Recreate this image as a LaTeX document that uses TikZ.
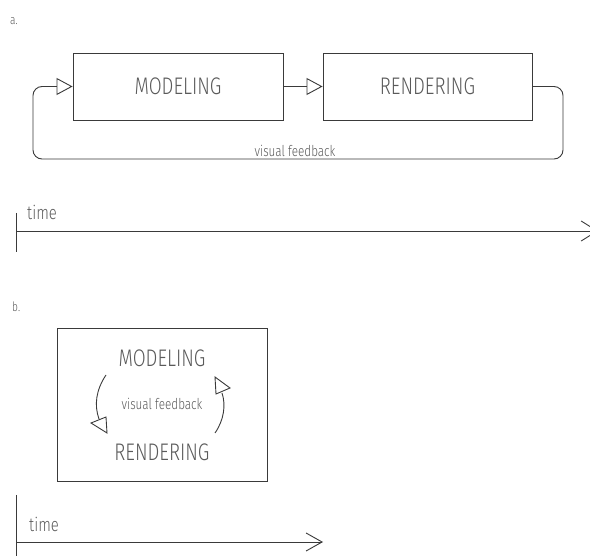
\documentclass[tikz,border=0pt]{standalone}
\usepackage{fontspec}
\setmainfont{Fira Sans}[UprightFont=* Light, FakeStretch=0.78]
\usetikzlibrary{arrows.meta}
\definecolor{ink}{HTML}{3A3A3A}
\definecolor{txt}{HTML}{5A5A5A}
\tikzset{
  stage/.style={draw=ink, line width=0.9pt, minimum width=210pt, minimum height=67pt,
    inner sep=0pt, font=\fontsize{24}{24}\selectfont, text=txt},
  word/.style={inner sep=0pt, font=\fontsize{24}{24}\selectfont, text=txt},
  small/.style={inner sep=0pt, text=txt, font=\fontsize{15}{15}\selectfont},
  timelbl/.style={inner sep=0pt, text=txt, font=\fontsize{19}{19}\selectfont, anchor=base west},
  tag/.style={inner sep=0pt, text=txt, font=\fontsize{13}{13}\selectfont, anchor=base west},
  conn/.style={draw=ink, line width=0.9pt},
  opentri/.style={-{Triangle[open, length=16pt, width=17pt, fill=white]}},
  axis/.style={draw=ink, line width=0.9pt, -{Straight Barb[length=16pt, width=20pt]}},
  headtri/.style={draw=ink, line width=0.9pt, fill=white, line join=miter},
}
\begin{document}
\begin{tikzpicture}[x=1pt, y=-1pt]
\useasboundingbox (0,0) rectangle (590,556);

% ---- a. sequential modeling / rendering
\node[tag] (taga) at (10,25) {a.};
\node[stage] (moda) at (178,86.5) {MODELING};
\node[stage, minimum width=209pt] (rena) at (427.5,86.5) {RENDERING};
\draw[conn, opentri] (moda.east) -- (rena.west);
\coordinate (fbr) at (563,86.5);
\coordinate (fbl) at (33,86.5);
\draw[conn, opentri, rounded corners=9pt]
  (rena.east) -- (fbr) -- (563,159) -- (33,159) -- (fbl) -- (moda.west);
\node[small] (fba) at (295,151) {visual feedback};

% time axis a
\coordinate (ta0) at (16,231);
\coordinate (ta1) at (598,231);
\draw[conn] (16,213) -- (16,252);
\draw[axis] (ta0) -- (ta1);
\node[timelbl] (timea) at (27,220) {time};

% ---- b. interleaved modeling / rendering
\node[tag] (tagb) at (12,312) {b.};
\node[draw=ink, line width=0.9pt, minimum width=210pt, minimum height=153pt, inner sep=0pt] (boxb) at (162,404.5) {};
\node[word] (modb) at (162,358) {MODELING};
\node[word] (renb) at (162,452) {RENDERING};
\node[small] (fbb) at (162,404) {visual feedback};

% left arc: modeling down to rendering
\coordinate (la0) at (106,375);
\coordinate (la1) at (99,419);
\draw[conn] (la0) .. controls (96,390) and (94,405) .. (la1);
\draw[headtri] (91,423) -- (106,417) -- (107,433) -- cycle;
% right arc: rendering up to modeling
\coordinate (ra0) at (215,433);
\coordinate (ra1) at (222,393);
\draw[conn] (ra0) .. controls (224,420) and (226,405) .. (ra1);
\draw[headtri] (215,377) -- (230,388) -- (216,394) -- cycle;

% time axis b
\coordinate (tb0) at (16,542);
\coordinate (tb1) at (323,542);
\draw[conn] (16,495) -- (16,558);
\draw[axis, -{Straight Barb[length=16pt, width=18pt]}] (tb0) -- (tb1);
\node[timelbl] (timeb) at (29,532) {time};
\end{tikzpicture}
\end{document}
